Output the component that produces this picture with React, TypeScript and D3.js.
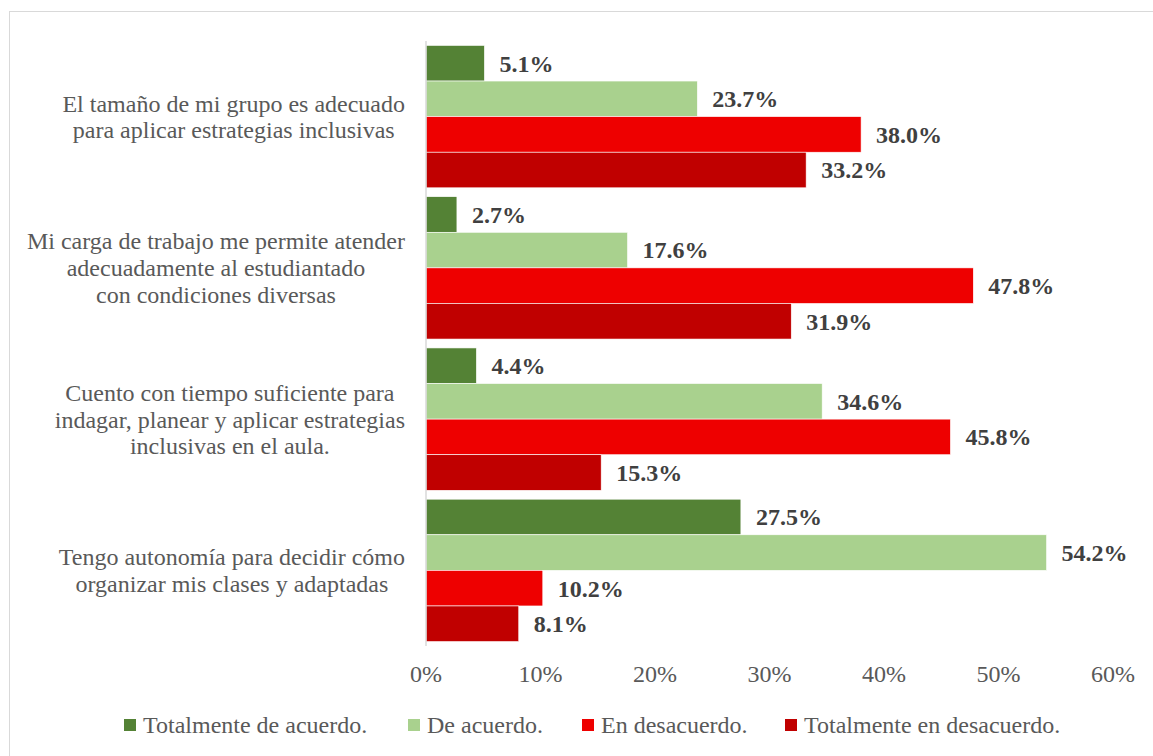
import React, { useMemo } from "react";
import * as d3 from "d3";

const categories: string[][] = [
  ["El tamaño de mi grupo es adecuado", "para aplicar estrategias inclusivas"],
  ["Mi carga de trabajo me permite atender", "adecuadamente al estudiantado", "con condiciones diversas"],
  ["Cuento con tiempo suficiente para", "indagar, planear y aplicar estrategias", "inclusivas en el aula."],
  ["Tengo autonomía para decidir cómo", "organizar mis clases y adaptadas"],
];
const seriesNames = ["Totalmente de acuerdo.", "De acuerdo.", "En desacuerdo.", "Totalmente en desacuerdo."];
const seriesColors = ["#548235", "#A9D18E", "#EE0000", "#C00000"];
const totalmenteDeAcuerdo = [5.1, 2.7, 4.4, 27.5];
const deAcuerdo = [23.7, 17.6, 34.6, 54.2];
const enDesacuerdo = [38.0, 47.8, 45.8, 10.2];
const totalmenteEnDesacuerdo = [33.2, 31.9, 15.3, 8.1];
const seriesValues = [totalmenteDeAcuerdo, deAcuerdo, enDesacuerdo, totalmenteEnDesacuerdo];
const xTicks = [0, 10, 20, 30, 40, 50, 60];

const FONT = "'Liberation Serif', 'Times New Roman', serif";
const FS = 24;

function measure(text: string, font: string): number {
  const c = document.createElement("canvas");
  const ctx = c.getContext("2d")!;
  ctx.font = font;
  return ctx.measureText(text).width;
}

export default function App() {
  const W = 1153, H = 756;
  const x0 = 426, x1 = 1113, yTop = 41, yBot = 646;
  const x = d3.scaleLinear().domain([0, 60]).range([x0, x1]);
  const yCat = d3.scaleBand<number>().domain(d3.range(categories.length)).range([yTop, yBot]).paddingInner(0).paddingOuter(0);
  const band = yCat.bandwidth();
  const gapFrac = 0.25 / 4.25;
  const ySer = d3.scaleBand<number>().domain(d3.range(4)).range([band * gapFrac / 2, band - band * gapFrac / 2]);
  const lineH = 26.8;
  const labelRight = 405;

  const widths = useMemo(
    () => categories.map((lines) => Math.max(...lines.map((l) => measure(l, `${FS}px ${FONT}`)))),
    []
  );

  const legendX = [124, 408, 582, 785];

  return (
    <svg width={W} height={H} style={{ position: "absolute", left: 0, top: 0 }} fontFamily={FONT}>
      <rect x={0} y={0} width={W} height={H} fill="#fff" />
      <rect x={9.5} y={11.5} width={W + 10} height={H + 10} fill="none" stroke="#d9d9d9" strokeWidth={1} />
      {categories.map((lines, ci) => {
        const cy = (yCat(ci) as number) + band / 2;
        const cx = labelRight - widths[ci] / 2;
        return (
          <g key={ci}>
            {lines.map((l, li) => (
              <text
                key={li}
                x={cx}
                y={cy + (li - (lines.length - 1) / 2) * lineH}
                dy="0.35em"
                textAnchor="middle"
                fontSize={FS}
                fill="#595959"
              >
                {l}
              </text>
            ))}
            {seriesValues.map((vals, si) => {
              const by = (yCat(ci) as number) + (ySer(si) as number);
              const bh = ySer.bandwidth();
              return (
                <g key={si}>
                  <rect
                    x={x(0)}
                    y={by}
                    width={x(vals[ci]) - x(0)}
                    height={bh}
                    fill={seriesColors[si]}
                    stroke="#fff"
                    strokeWidth={0.6}
                  />
                  <text
                    x={x(vals[ci]) + 15}
                    y={by + bh / 2}
                    dy="0.35em"
                    fontSize={FS}
                    fontWeight="bold"
                    fill="#404040"
                  >
                    {vals[ci].toFixed(1) + "%"}
                  </text>
                </g>
              );
            })}
          </g>
        );
      })}
      <line x1={x0} x2={x0} y1={yTop} y2={yBot} stroke="#d9d9d9" strokeWidth={1.5} />
      {xTicks.map((t) => (
        <text key={t} x={x(t)} y={682} textAnchor="middle" fontSize={FS} fill="#595959">
          {t + "%"}
        </text>
      ))}
      {seriesNames.map((n, i) => (
        <g key={n}>
          <rect x={legendX[i]} y={719} width={12} height={12} fill={seriesColors[i]} />
          <text x={legendX[i] + 19} y={733} fontSize={FS} fill="#595959">
            {n}
          </text>
        </g>
      ))}
    </svg>
  );
}
